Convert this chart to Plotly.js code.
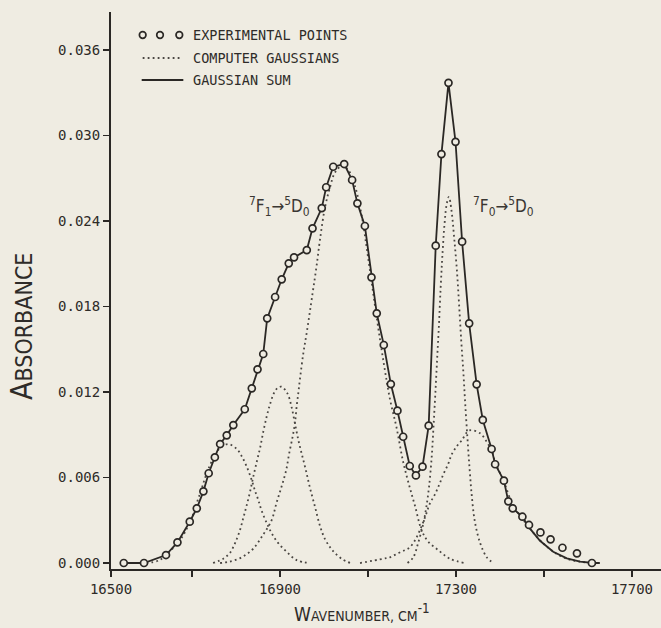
<!DOCTYPE html>
<html>
<head>
<meta charset="utf-8">
<script src="https://cdn.plot.ly/plotly-3.0.1.min.js"></script>
<style>
  html, body { margin: 0; padding: 0; background: #efece2; }
  #chart { width: 661px; height: 628px; }
</style>
</head>
<body>
<div id="chart"></div>
<script>
// ---- Experimental points (wavenumber cm-1, absorbance) ----
const expX = [16545, 16591, 16641, 16667, 16695, 16711, 16726, 16738, 16752, 16764,
              16779, 16794, 16820, 16836, 16849, 16862, 16871, 16889, 16904, 16920,
              16932, 16961, 16974, 16995, 17005, 17021, 17046, 17064, 17076, 17093,
              17108, 17120, 17136, 17152, 17167, 17180, 17195, 17209, 17224, 17238,
              17254, 17267, 17283, 17299, 17314, 17330, 17347, 17361, 17381, 17389,
              17409, 17419, 17429, 17451, 17466, 17492, 17515, 17542, 17575, 17609];
const expY = [0.0000, 0.0000, 0.00056, 0.00145, 0.0029, 0.00384, 0.00503, 0.0063, 0.00742, 0.00835,
              0.00896, 0.00968, 0.01079, 0.01226, 0.01359, 0.01467, 0.01717, 0.01867, 0.01991, 0.02103,
              0.02145, 0.02196, 0.02349, 0.02491, 0.02637, 0.02781, 0.0280, 0.02688, 0.02524, 0.02365,
              0.02005, 0.01752, 0.0153, 0.01256, 0.01069, 0.00886, 0.00681, 0.00615, 0.00676, 0.00964,
              0.02227, 0.0287, 0.0337, 0.02956, 0.02255, 0.01682, 0.01254, 0.01004, 0.0080, 0.00693,
              0.00578, 0.00433, 0.00384, 0.00325, 0.00267, 0.00215, 0.00166, 0.00107, 0.00068, 0.0000];

// ---- Gaussian sum (solid line) ----
const sumX = [16545, 16591, 16641, 16667, 16695, 16711, 16726, 16738, 16752, 16764,
              16779, 16794, 16820, 16836, 16849, 16862, 16871, 16889, 16904, 16920,
              16932, 16961, 16974, 16995, 17005, 17021, 17046, 17064, 17076, 17093,
              17108, 17120, 17136, 17152, 17167, 17180, 17195, 17209, 17224, 17238,
              17254, 17267, 17283, 17299, 17314, 17330, 17347, 17361, 17381, 17389,
              17409, 17419, 17429, 17451, 17466, 17491, 17521, 17552, 17582, 17612, 17627];
const sumY = [0.0000, 0.0000, 0.00056, 0.00145, 0.0029, 0.00384, 0.00503, 0.0063, 0.00742, 0.00835,
              0.00896, 0.00968, 0.01079, 0.01226, 0.01359, 0.01467, 0.01717, 0.01867, 0.01991, 0.02103,
              0.02145, 0.02196, 0.02349, 0.02491, 0.02637, 0.02781, 0.0280, 0.02688, 0.02524, 0.02365,
              0.02005, 0.01752, 0.0153, 0.01256, 0.01069, 0.00886, 0.00681, 0.00615, 0.00676, 0.00964,
              0.02227, 0.0287, 0.0337, 0.02956, 0.02255, 0.01682, 0.01254, 0.01004, 0.0080, 0.00693,
              0.00578, 0.00433, 0.00384, 0.00325, 0.0025, 0.00156, 0.00079, 0.00033, 0.00009, 0.0000, 0.0000];

// ---- Computer Gaussians (dotted) ----
const g1X = [16596, 16626, 16649, 16668, 16683, 16694, 16706, 16713, 16721, 16728, 16740, 16751, 16762,
             16782, 16802, 16813, 16824, 16836, 16843, 16851, 16858, 16870, 16881, 16896, 16915, 16938, 16968];
const g1Y = [0.0000, 0.0002, 0.0008, 0.0014, 0.0021, 0.0028, 0.0037, 0.0044, 0.0051, 0.0058, 0.0068, 0.0075, 0.0080,
             0.00835, 0.0080, 0.0075, 0.0068, 0.0058, 0.0051, 0.0044, 0.0037, 0.0028, 0.0021, 0.0014, 0.0008, 0.0002, 0.0000];

const g2X = [16748, 16771, 16786, 16798, 16809, 16817, 16824, 16832, 16839, 16848, 16855, 16862, 16870, 16877, 16886, 16895,
             16904, 16917, 16926, 16934, 16942, 16950, 16959, 16968, 16980, 16991, 17002, 17014, 17025, 17040, 17060];
const g2Y = [0.0000, 0.0003, 0.0007, 0.0014, 0.0023, 0.0032, 0.0040, 0.0050, 0.0060, 0.0072, 0.0081, 0.0092, 0.0103, 0.0111, 0.0119, 0.0123,
             0.01237, 0.0119, 0.0110, 0.0098, 0.0086, 0.0076, 0.0065, 0.0053, 0.0039, 0.0026, 0.0017, 0.0011, 0.0007, 0.0003, 0.0000];

const g3X = [16764, 16786, 16813, 16839, 16862, 16881, 16892, 16904, 16914, 16921, 16929, 16934, 16938, 16942, 16945, 16953,
             16961, 16974, 16983, 16991, 17002, 17014, 17025, 17042, 17055, 17070, 17085, 17100, 17120, 17136, 17150, 17165,
             17180, 17195, 17207, 17222, 17237, 17260, 17286, 17320];
const g3Y = [0.0000, 0.0001, 0.0004, 0.0010, 0.0020, 0.0030, 0.0042, 0.0054, 0.0065, 0.0077, 0.0089, 0.0098, 0.0110, 0.0120, 0.0128, 0.0147,
             0.0162, 0.0189, 0.0208, 0.0227, 0.0249, 0.0264, 0.0274, 0.0279, 0.0276, 0.0265, 0.0245, 0.0215, 0.0172, 0.0140, 0.0115, 0.0095,
             0.0071, 0.0053, 0.0040, 0.0023, 0.0015, 0.0009, 0.0003, 0.0000];

const g4X = [17082, 17135, 17150, 17169, 17184, 17195, 17207, 17218, 17226, 17233, 17241, 17252, 17262, 17271, 17283, 17290,
             17302, 17313, 17330, 17355, 17370, 17381, 17389, 17409, 17429, 17451, 17466, 17491, 17521, 17552, 17582, 17612];
const g4Y = [0.0000, 0.0003, 0.0004, 0.0007, 0.0009, 0.0011, 0.0016, 0.0023, 0.0029, 0.0035, 0.0042, 0.0048, 0.0055, 0.0062, 0.0070, 0.0076,
             0.0082, 0.0086, 0.0093, 0.0091, 0.0085, 0.0079, 0.0071, 0.0057, 0.0041, 0.0031, 0.0025, 0.0016, 0.0008, 0.0003, 0.0001, 0.0000];

const g5X = [17190, 17203, 17214, 17226, 17233, 17239, 17245, 17249, 17253, 17257, 17261, 17265, 17269, 17274, 17279, 17284,
             17290, 17296, 17302, 17307, 17312, 17317, 17321, 17326, 17331, 17336, 17343, 17355, 17370, 17385];
const g5Y = [0.0000, 0.0004, 0.0014, 0.0028, 0.0040, 0.0054, 0.0075, 0.0096, 0.0118, 0.0142, 0.0165, 0.0192, 0.0215, 0.0238, 0.0252, 0.0257,
             0.0247, 0.0228, 0.0206, 0.0182, 0.0156, 0.0133, 0.0112, 0.0088, 0.0066, 0.0047, 0.0029, 0.0014, 0.0004, 0.0000];

// ---- Axis ticks and texts ----
const yTickVals = [0, 0.006, 0.012, 0.018, 0.024, 0.030, 0.036];
const yTickText = ['0.000', '0.006', '0.012', '0.018', '0.024', '0.030', '0.036'];
const xTickVals = [16516, 16900, 17300, 17700];
const xTickText = ['16500', '16900', '17300', '17700'];
const xMinorVals = [16700, 17100, 17500];
const legendLabels = ['EXPERIMENTAL POINTS', 'COMPUTER GAUSSIANS', 'GAUSSIAN SUM'];
const bandLabels = ['<sup>7</sup>F<sub>1</sub>→<sup>5</sup>D<sub>0</sub>', '<sup>7</sup>F<sub>0</sub>→<sup>5</sup>D<sub>0</sub>'];
const bandX = [16898, 17409];
const bandY = [0.0250, 0.0250];

const BG = '#efece2';
const INK = '#2b2825';
const MONO = 'DejaVu Sans Mono, Liberation Mono, monospace';
const COND = 'DejaVu Sans Condensed, Liberation Sans Narrow, DejaVu Sans, sans-serif';

const dotted = { color: '#4a4642', width: 1.8, dash: '1.8px,3.2px', shape: 'spline', smoothing: 1 };
const gauss = [[g1X, g1Y], [g2X, g2Y], [g3X, g3Y], [g4X, g4Y], [g5X, g5Y]].map(([x, y]) => ({
  x, y, type: 'scatter', mode: 'lines', line: dotted, hoverinfo: 'skip', showlegend: false
}));

const traces = gauss.concat([
  { x: sumX, y: sumY, type: 'scatter', mode: 'lines',
    line: { color: INK, width: 1.8 }, showlegend: false },
  { x: expX, y: expY, type: 'scatter', mode: 'markers', cliponaxis: false,
    marker: { symbol: 'circle', size: 7, color: BG, line: { color: INK, width: 1.7 } },
    showlegend: false }
]);

// legend (drawn manually, paper coordinates)
const legY = [0.9587, 0.9174, 0.8779];
const shapes = [];
[0.0576, 0.0891, 0.1242].forEach(cx => shapes.push({
  type: 'circle', xref: 'paper', yref: 'paper', xsizemode: 'pixel', ysizemode: 'pixel',
  xanchor: cx, yanchor: legY[0], x0: -3.3, x1: 3.3, y0: -3.3, y1: 3.3,
  line: { color: INK, width: 1.7 }, fillcolor: BG
}));
shapes.push({ type: 'line', xref: 'paper', yref: 'paper', x0: 0.0576, x1: 0.1285, y0: legY[1], y1: legY[1],
  line: { color: '#4a4642', width: 1.8, dash: '1.8px,3.2px' } });
shapes.push({ type: 'line', xref: 'paper', yref: 'paper', x0: 0.0558, x1: 0.1315, y0: legY[2], y1: legY[2],
  line: { color: INK, width: 1.8 } });

const annotations = legendLabels.map((t, i) => ({
  text: t, xref: 'paper', yref: 'paper', x: 0.1449, y: legY[i], xanchor: 'left', yanchor: 'middle',
  showarrow: false, font: { family: MONO, size: 13.5, color: '#2e2b28' }
}));
bandLabels.forEach((t, i) => annotations.push({
  text: t, x: bandX[i], y: bandY[i], xref: 'x', yref: 'y', xanchor: 'center', yanchor: 'middle',
  showarrow: false, font: { family: COND, size: 17, color: '#3a3733' }
}));
annotations.push({
  text: 'A<span style="font-size:23px">BSORBANCE</span>', xref: 'paper', yref: 'paper',
  x: -0.1618, y: 0.4345, xanchor: 'center', yanchor: 'middle', textangle: -90, showarrow: false,
  font: { family: COND, size: 30, color: '#2e2b28' }
});
annotations.push({
  text: 'W<span style="font-size:14px">AVENUMBER, CM</span><sup>-1</sup>', xref: 'paper', yref: 'paper',
  x: 0.456, y: -0.079, xanchor: 'center', yanchor: 'middle', showarrow: false,
  font: { family: COND, size: 19, color: '#2e2b28' }
});

const layout = {
  width: 661, height: 628,
  margin: { l: 111, r: 0, t: 12, b: 59, pad: 0 },
  paper_bgcolor: BG, plot_bgcolor: BG,
  showlegend: false,
  xaxis: {
    range: [16516, 17766], showgrid: false, zeroline: false,
    showline: true, linecolor: INK, linewidth: 2,
    tickmode: 'array', tickvals: xTickVals, ticktext: xTickText,
    ticks: 'outside', ticklen: 6, tickwidth: 1.6, tickcolor: INK,
    tickfont: { family: MONO, size: 14, color: '#2e2b28' },
    minor: { tickmode: 'array', tickvals: xMinorVals, ticks: 'outside', ticklen: 6,
             tickwidth: 1.6, tickcolor: INK, showgrid: false }
  },
  yaxis: {
    range: [-0.00042, 0.03867], showgrid: false, zeroline: false,
    showline: true, linecolor: INK, linewidth: 2,
    tickmode: 'array', tickvals: yTickVals, ticktext: yTickText,
    ticks: 'outside', ticklen: 6, tickwidth: 1.6, tickcolor: INK,
    tickfont: { family: MONO, size: 14, color: '#2e2b28' }
  },
  shapes, annotations
};

Plotly.newPlot('chart', traces, layout, { staticPlot: true, displayModeBar: false });
</script>
</body>
</html>
